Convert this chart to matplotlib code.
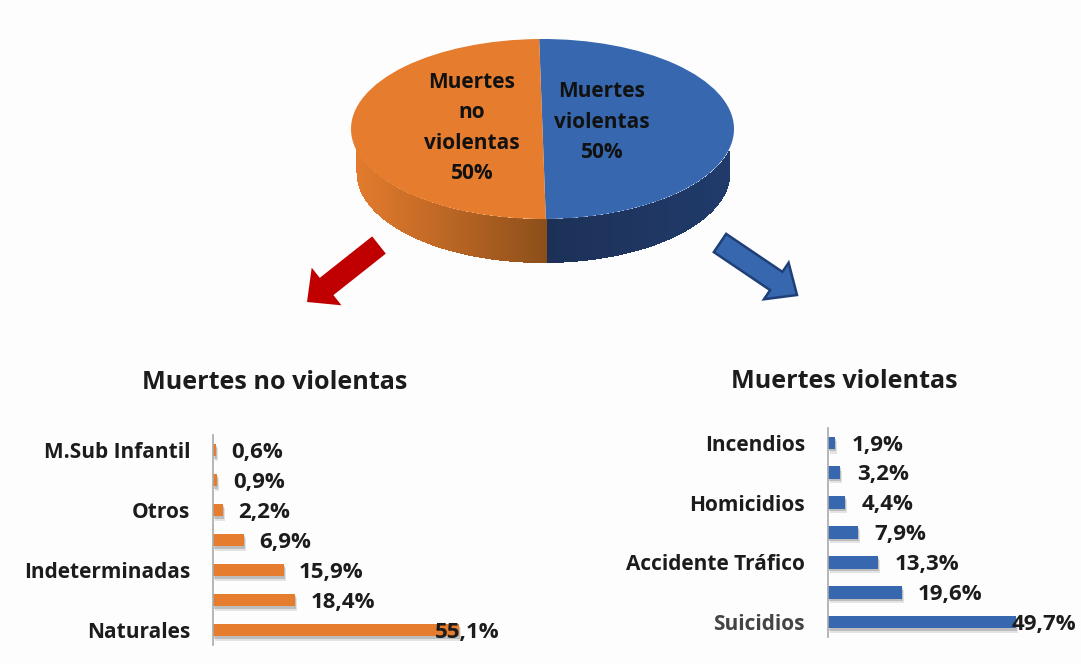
import matplotlib
matplotlib.use("Agg")
import matplotlib.pyplot as plt
import matplotlib.patheffects as pe
from matplotlib.colors import to_rgb
from matplotlib.patches import FancyArrow
import numpy as np

plt.rcParams['font.family'] = ['Open Sans', 'DejaVu Sans']
plt.rcParams['font.weight'] = 'bold'

W, H = 1081, 664

# data
pie_labels = ["Muertes\nno\nviolentas\n50%", "Muertes\nviolentas\n50%"]
pie_shares = [50, 50]

no_violentas_cats = ["M.Sub Infantil", "", "Otros", "", "Indeterminadas", "", "Naturales"]
no_violentas_vals = [0.6, 0.9, 2.2, 6.9, 15.9, 18.4, 55.1]
no_violentas_txt = ["0,6%", "0,9%", "2,2%", "6,9%", "15,9%", "18,4%", "55,1%"]

violentas_cats = ["Incendios", "", "Homicidios", "", "Accidente Tráfico", "", "Suicidios"]
violentas_vals = [1.9, 3.2, 4.4, 7.9, 13.3, 19.6, 49.7]
violentas_txt = ["1,9%", "3,2%", "4,4%", "7,9%", "13,3%", "19,6%", "49,7%"]

ORANGE = "#E67C2E"
BLUE = "#3767AE"
INK = "#1c1c1c"


def px_axes(fig, left, top, right, bottom):
    return fig.add_axes([left / W, 1 - bottom / H, (right - left) / W, (bottom - top) / H])


def mix(a, b, t):
    a, b = np.array(to_rgb(a)), np.array(to_rgb(b))
    return tuple(a + (b - a) * t)


fig = plt.figure(figsize=(W / 100, H / 100), dpi=100, facecolor="#fdfdfe")

# overlay in pixels for the pie wall and the two arrows
bg = px_axes(fig, 0, 0, W, H)
bg.set_xlim(0, W)
bg.set_ylim(H, 0)
bg.axis("off")

cx, cy, rx, ry = 542.5, 129, 191.5, 90
depth = 44
rw = 0.974
xs = np.linspace(cx - rx * rw, cx + rx * rw, 374)
for x0, x1 in zip(xs[:-1], xs[1:]):
    u = (x0 - cx) / rx
    top = cy + ry * np.sqrt(1 - u ** 2)
    bot = cy + depth + ry * np.sqrt(max(1 - (u / rw) ** 2, 0))
    bot = max(bot, top)
    if x0 < 547:
        t = (x0 - (cx - rx)) / (547 - (cx - rx))
        col = mix("#E37B2D", "#8C4E1A", t ** 1.1)
    else:
        t = (x0 - 547) / (cx + rx - 547)
        col = mix("#1D3157", "#203B6B", t)
    bg.fill_between([x0, x1 + 0.5], top, bot, color=col, lw=0)

bg.add_patch(FancyArrow(379, 245, -72, 57, width=22, head_width=48, head_length=25,
                        length_includes_head=True, color="#C00000", lw=0))
bg.add_patch(FancyArrow(720, 243, 77, 52, width=22, head_width=44, head_length=25,
                        length_includes_head=True, facecolor=BLUE, edgecolor="#1F3F77", lw=1.8))

# top of the pie
ax_pie = px_axes(fig, cx - rx, cy - ry, cx + rx, cy + ry)
ax_pie.pie(pie_shares, colors=[BLUE, ORANGE], startangle=91, counterclock=False,
           radius=1, wedgeprops={"lw": 0})
ax_pie.set_aspect("auto")
ax_pie.set_xlim(-1, 1)
ax_pie.set_ylim(-1, 1)
ax_pie.patch.set_alpha(0)

pie_text = {"ha": "center", "va": "center", "fontsize": 15, "linespacing": 1.6, "color": "#111111"}
fig.text(472 / W, 1 - 128 / H, pie_labels[0], **pie_text)
fig.text(602 / W, 1 - 122 / H, pie_labels[1], **pie_text)

fig.text(275 / W, 1 - 383 / H, "Muertes no violentas", ha="center", va="center", fontsize=18.1, color=INK)
fig.text(844 / W, 1 - 381 / H, "Muertes violentas", ha="center", va="center", fontsize=18.1, color=INK)


def bars(rect, cats, vals, txt, color, xmax, pad_px, offs):
    ax = px_axes(fig, *rect)
    pos = np.arange(len(vals))
    bs = ax.barh(pos, vals, height=0.43, color=color, lw=0)
    for b in bs:
        b.set_path_effects([pe.withSimplePatchShadow(offset=(1.5, -3), shadow_rgbFace="#999999", alpha=0.25),
                            pe.withSimplePatchShadow(offset=(0.7, -1.5), shadow_rgbFace="#777777", alpha=0.35),
                            pe.Normal()])
    ax.set_xlim(0, xmax)
    ax.set_ylim(len(vals) - 0.5, -0.5)
    ax.set_yticks(pos, cats)
    ax.set_xticks([])
    ax.tick_params(axis="y", length=0, pad=pad_px * 0.72, labelsize=15, labelcolor=INK)
    for s in ("top", "right", "bottom"):
        ax.spines[s].set_visible(False)
    ax.spines["left"].set_color("#a9a9a9")
    ax.spines["left"].set_linewidth(1.2)
    ax.patch.set_alpha(0)
    for y, v, t, o in zip(pos, vals, txt, offs):
        ax.annotate(t, (v, y), xytext=(o * 0.72, -1.5), textcoords="offset points",
                    ha="left", va="center", fontsize=16, color=INK, annotation_clip=False)
    return ax


bars((213, 435, 213 + 300, 645), no_violentas_cats, no_violentas_vals, no_violentas_txt,
     ORANGE, 300 / 4.46, 23, [16, 16, 15, 15, 15, 16, -24])
ax_v = bars((828, 428, 828 + 250, 637), violentas_cats, violentas_vals, violentas_txt,
            BLUE, 250 / 3.78, 23, [17, 17, 17, 17, 16, 16, -4])
ax_v.get_yticklabels()[-1].set_color("#444444")

fig.savefig("out.png", dpi=100, facecolor=fig.get_facecolor())
